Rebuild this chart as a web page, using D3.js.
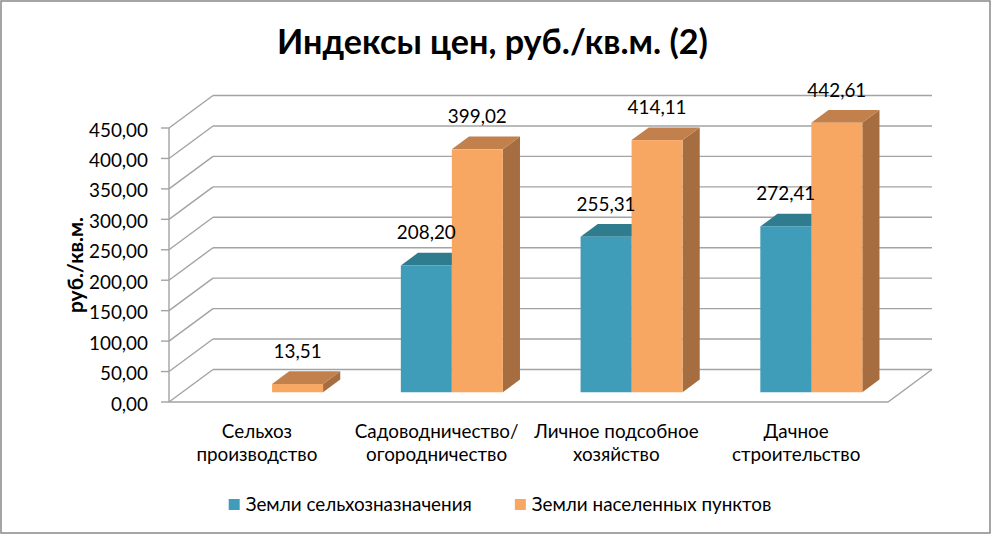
<!DOCTYPE html>
<html><head><meta charset="utf-8">
<script src="https://cdn.jsdelivr.net/npm/d3@7"></script>
<style>html,body{margin:0;padding:0;background:#fff;overflow:hidden} svg{display:block}</style>
</head><body>
<svg id="c" width="991" height="534"></svg>
<script>
// ---- data ----
const title = "Индексы цен, руб./кв.м. (2)";
const yTitle = "руб./кв.м.";
const categories = ["Сельхоз\nпроизводство", "Садоводничество/\nогородничество", "Личное подсобное\nхозяйство", "Дачное\nстроительство"];
const seriesNames = ["Земли сельхозназначения", "Земли населенных пунктов"];
const agriValues = [null, 208.20, 255.31, 272.41];
const settlementValues = [13.51, 399.02, 414.11, 442.61];
const yTickValues = [0, 50, 100, 150, 200, 250, 300, 350, 400, 450];

// ---- styles ----
const FONT = "Lato, 'Open Sans', 'Noto Sans', sans-serif";
const colors = [
  {front: "#409DBA", top: "#2F7C8E", side: "#2A6F82"},
  {front: "#F8A762", top: "#C1804C", side: "#A66E40"}
];
const gridColor = "#A3A3A3";

const svg = d3.select("#c");
svg.append("rect").attr("x", 1).attr("y", 1).attr("width", 989).attr("height", 532)
  .attr("fill", "#fff").attr("stroke", "#888").attr("stroke-width", 1.5);

function measure(str, size, weight) {
  const t = svg.append("text").attr("font-family", FONT).attr("font-size", size)
    .attr("font-weight", weight || "normal").text(str);
  const w = t.node().getComputedTextLength();
  t.remove();
  return w;
}
const baseSize = 100 * 59 / measure("399,02", 100);
const titleSize = 100 * 431 / measure(title, 100, "bold");
const yTitleSize = 100 * 96 / measure(yTitle, 100, "bold");

const fmt = d3.formatLocale({decimal: ",", thousands: " ", grouping: [3], currency: ["", ""]}).format(".2f");

// ---- 3D geometry ----
const FX0 = 169, FX1 = 888;     // front plane x extent
const DX = 44, DY = -32.5;      // full depth offset
const z0 = 0.3, z1 = 0.69;      // bar depth band

const y = d3.scaleLinear().domain([0, 450]).range([402, 128]);
const x0 = d3.scaleBand().domain(categories).range([FX0, FX1]).paddingInner(0.4326).paddingOuter(0.2163);
const x1 = d3.scaleBand().domain(seriesNames).range([0, x0.bandwidth()]);

const g = svg.append("g");

// gridlines: left wall diagonals + back wall horizontals
yTickValues.forEach(t => {
  const yf = y(t);
  g.append("line").attr("x1", FX0).attr("y1", yf).attr("x2", FX0 + DX).attr("y2", yf + DY)
    .attr("stroke", gridColor).attr("stroke-width", 1.4);
  g.append("line").attr("x1", FX0 + DX).attr("y1", yf + DY).attr("x2", FX1 + DX).attr("y2", yf + DY)
    .attr("stroke", gridColor).attr("stroke-width", 1.4);
  g.append("line").attr("x1", FX0 - 8).attr("y1", yf).attr("x2", FX0).attr("y2", yf)
    .attr("stroke", gridColor).attr("stroke-width", 1.4);
  g.append("text").attr("x", 148).attr("y", yf + 8.5).attr("text-anchor", "end")
    .attr("font-family", FONT).attr("font-size", baseSize).attr("fill", "#000").text(fmt(t));
});
// front axis
g.append("line").attr("x1", FX0).attr("y1", y(450)).attr("x2", FX0).attr("y2", y(0))
  .attr("stroke", gridColor).attr("stroke-width", 1.4);
// floor
g.append("path").attr("d", `M${FX0},${y(0)}L${FX1},${y(0)}L${FX1 + DX},${y(0) + DY}`)
  .attr("fill", "none").attr("stroke", gridColor).attr("stroke-width", 1.4);

// ---- bars ----
const valuesBySeries = [agriValues, settlementValues];
const bw = x1.bandwidth();
const ox = DX * z0, oy = DY * z0;
const dx = DX * (z1 - z0), dy = DY * (z1 - z0);
const bars = g.append("g");
const labels = g.append("g");

categories.forEach((c, ci) => {
  seriesNames.forEach((s, si) => {
    const v = valuesBySeries[si][ci];
    if (v == null) return;
    const xa = x0(c) + x1(s) + ox, xb = xa + bw;
    const yt = y(v) + oy, yb = y(0) + oy;
    const col = colors[si];
    // side
    bars.append("path").attr("d", `M${xb},${yt}L${xb + dx},${yt + dy}L${xb + dx},${yb + dy}L${xb},${yb}Z`)
      .attr("fill", col.side);
    // top
    bars.append("path").attr("d", `M${xa},${yt}L${xb},${yt}L${xb + dx},${yt + dy}L${xa + dx},${yt + dy}Z`)
      .attr("fill", col.top);
    // front
    bars.append("rect").attr("x", xa).attr("y", yt).attr("width", bw).attr("height", yb - yt)
      .attr("fill", col.front);
    labels.append("text").attr("x", xa + bw / 2).attr("y", yt - 26).attr("text-anchor", "middle")
      .attr("font-family", FONT).attr("font-size", baseSize).attr("fill", "#000").text(fmt(v));
  });
});

// ---- category labels ----
categories.forEach(c => {
  const cx = x0(c) + x0.bandwidth() / 2 - 2;
  c.split("\n").forEach((line, li) => {
    svg.append("text").attr("x", cx).attr("y", 438 + li * 23).attr("text-anchor", "middle")
      .attr("font-family", FONT).attr("font-size", baseSize).attr("fill", "#000").text(line);
  });
});

// ---- title ----
svg.append("text").attr("x", 492.5).attr("y", 54).attr("text-anchor", "middle")
  .attr("font-family", FONT).attr("font-weight", "bold").attr("font-size", titleSize)
  .attr("fill", "#000").text(title);

// ---- y title ----
svg.append("text").attr("transform", "translate(83,265) rotate(-90)").attr("text-anchor", "middle")
  .attr("font-family", FONT).attr("font-weight", "bold").attr("font-size", yTitleSize)
  .attr("fill", "#000").text(yTitle);

// ---- legend ----
const sq = 11, gap = 6, itemGap = 43;
const widths = seriesNames.map(s => measure(s, baseSize));
const total = d3.sum(widths) + seriesNames.length * (sq + gap) + itemGap * (seriesNames.length - 1);
let lx = 500 - total / 2;
const legend = svg.append("g");
seriesNames.forEach((s, i) => {
  legend.append("rect").attr("x", lx).attr("y", 499).attr("width", sq).attr("height", sq).attr("fill", colors[i].front);
  legend.append("text").attr("x", lx + sq + gap).attr("y", 511).attr("font-family", FONT)
    .attr("font-size", baseSize).attr("fill", "#000").text(s);
  lx += sq + gap + widths[i] + itemGap;
});
</script>
</body></html>
